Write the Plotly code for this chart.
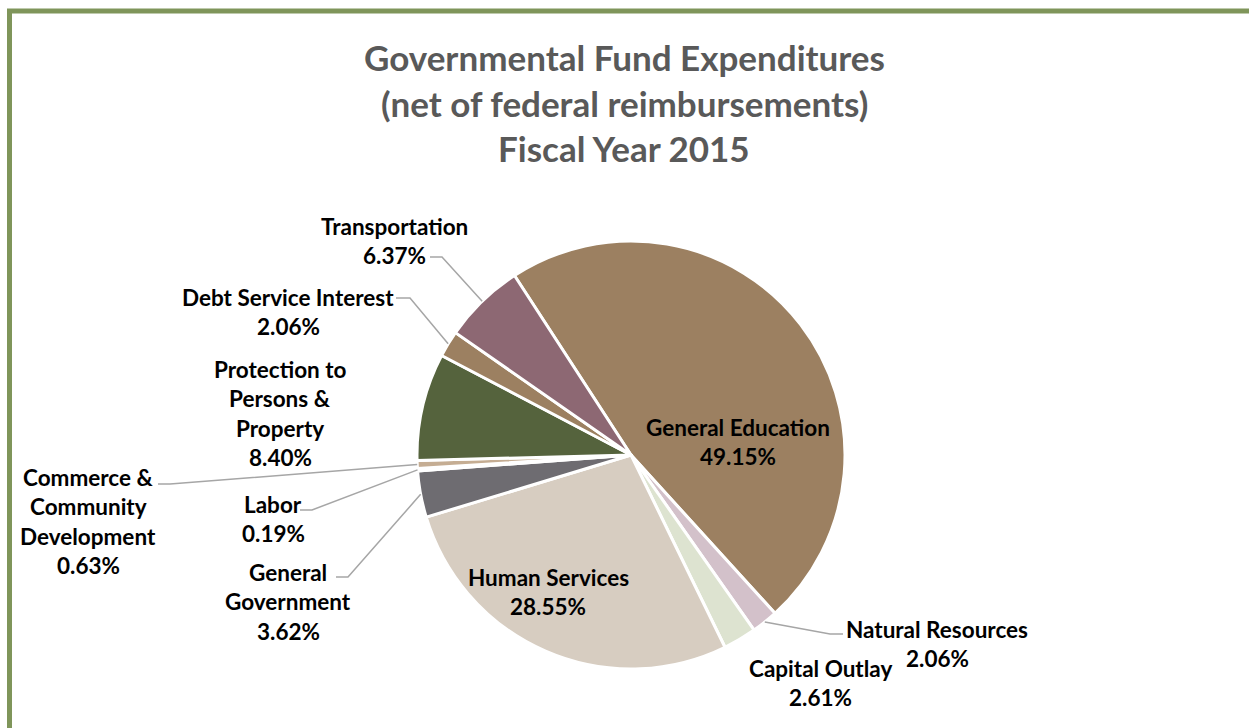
import plotly.graph_objects as go
import math

# ---------------- data ----------------
categories = ["General Education", "Natural Resources", "Capital Outlay", "Human Services",
              "General Government", "Labor", "Commerce & Community Development",
              "Protection to Persons & Property", "Debt Service Interest", "Transportation"]
values = [49.15, 2.06, 2.61, 28.55, 3.62, 0.19, 0.63, 8.40, 2.06, 6.37]
label_lines = [
    ["General Education", "49.15%"],
    ["Natural Resources", "2.06%"],
    ["Capital Outlay", "2.61%"],
    ["Human Services", "28.55%"],
    ["General", "Government", "3.62%"],
    ["Labor", "0.19%"],
    ["Commerce &", "Community", "Development", "0.63%"],
    ["Protection to", "Persons &", "Property", "8.40%"],
    ["Debt Service Interest", "2.06%"],
    ["Transportation", "6.37%"],
]
title_lines = ["Governmental Fund Expenditures", "(net of federal reimbursements)", "Fiscal Year 2015"]

# ---------------- style / layout ----------------
colors = ["#9C8061", "#D3C1CA", "#DDE3D0", "#D7CDC1", "#6E6C71",
          "#E6DCCB", "#C5AD93", "#55633D", "#9C8061", "#8D6873"]
W, H = 1249, 728
CX, CY, R = 631, 455, 214
ROT = -33
FONT = "Lato"
LABEL_SIZE = 22.5
TITLE_SIZE = 35

# label placement (pixel centre x, first-line centre y) and leader elbows
label_pos = {
    0: (738, 427), 1: (937, 629), 2: (820, 668), 3: (548, 577), 4: (288, 572),
    5: (273, 504), 6: (88, 477), 7: (280, 369), 8: (288, 297), 9: (394, 226),
}
leader = {  # (start x, start y, elbow x)
    9: (430, 257, 442), 8: (396, 298, 410), 6: (158, 484, 170),
    5: (300, 510, 312), 4: (336, 577, 348), 1: (843, 634, 830),
}
LINE_H = 29.5


def px(x):
    return x / W


def py(y):
    return 1 - y / H


fig = go.Figure(go.Pie(
    labels=categories, values=values, sort=False, direction="clockwise",
    rotation=ROT, marker=dict(colors=colors, line=dict(color="white", width=3)),
    textinfo="none", hoverinfo="label+percent", showlegend=False,
    domain=dict(x=[px(CX - R), px(CX + R)], y=[py(CY + R), py(CY - R)]),
))

annotations = []
for i, (y0, t) in enumerate(zip([57, 103, 148], title_lines)):
    annotations.append(dict(x=px(624), y=py(y0), xref="paper", yref="paper", text=t,
                            showarrow=False, xanchor="center", yanchor="middle",
                            font=dict(family=FONT, size=TITLE_SIZE, color="#595959", weight="bold")))

for i, lines in enumerate(label_lines):
    cx, cy = label_pos[i]
    for k, t in enumerate(lines):
        annotations.append(dict(x=px(cx), y=py(cy + k * LINE_H), xref="paper", yref="paper",
                                text=t, showarrow=False, xanchor="center", yanchor="middle",
                                font=dict(family=FONT, size=LABEL_SIZE, color="black", weight="bold")))

# leader lines ending at slice mid-angle edge (computed from data)
total = sum(values)
shapes = []
cum = 0
mids = []
for v in values:
    a = ROT + (cum + v / 2) / total * 360
    mids.append(a)
    cum += v
for i, (sx, sy, ex) in leader.items():
    a = math.radians(mids[i])
    ex2 = CX + R * math.sin(a)
    ey2 = CY - R * math.cos(a)
    path = f"M {px(sx)},{py(sy)} L {px(ex)},{py(sy)} L {px(ex2)},{py(ey2)}"
    shapes.append(dict(type="path", path=path, xref="paper", yref="paper",
                       line=dict(color="#A6A6A6", width=1.5)))

# chart border
shapes.append(dict(type="rect", xref="paper", yref="paper",
                   x0=px(9.5), x1=px(W + 20), y0=py(H + 20), y1=py(11),
                   line=dict(color="#7F955A", width=5)))

fig.update_layout(width=W, height=H, margin=dict(l=0, r=0, t=0, b=0),
                  paper_bgcolor="white", plot_bgcolor="white",
                  annotations=annotations, shapes=shapes)
fig.write_html("out.html", post_script="document.body.style.margin='0px';",
               config={"displayModeBar": False})
